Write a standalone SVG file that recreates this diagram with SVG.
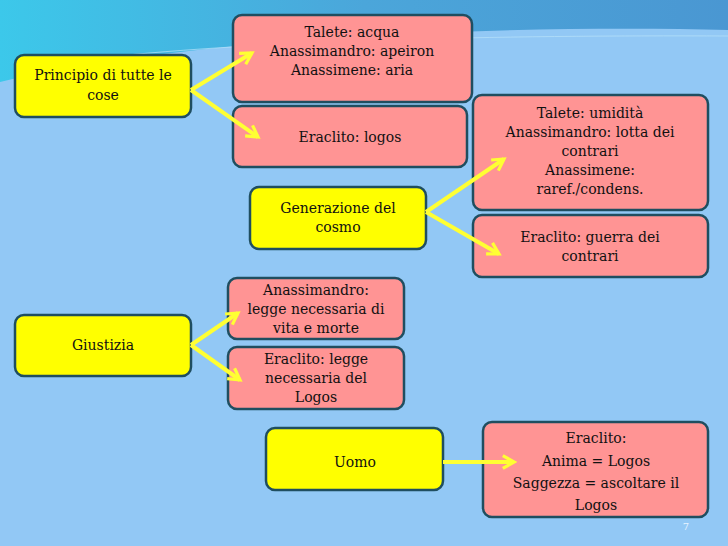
<svg xmlns="http://www.w3.org/2000/svg" width="728" height="546" viewBox="0 0 728 546" font-family="'DejaVu Serif', 'Liberation Serif', serif">
<defs>
<linearGradient id="top" x1="0" y1="0" x2="1" y2="0"><stop offset="0" stop-color="#3CC8EA"/><stop offset="0.5" stop-color="#4BA6DA"/><stop offset="1" stop-color="#4A97D2"/></linearGradient>
<marker id="ah" viewBox="0 0 10 10" refX="8" refY="5" markerWidth="4" markerHeight="4" orient="auto" markerUnits="strokeWidth"><path d="M1,1 L8,5 L1,9" fill="none" stroke="#FFFF33" stroke-width="2"/></marker>
<style>
.y{fill:#FFFF00;stroke:#1F4E60;stroke-width:2.5}
.p{fill:#FF9494;stroke:#1F4E60;stroke-width:2.5}
text{font-size:14px;fill:#111;text-anchor:middle}
.c line{stroke:#FFFF33;stroke-width:4;marker-end:url(#ah)}
</style>
</defs>
<rect width="728" height="546" fill="#92C8F5"/>
<path d="M0,0 H728 V30 C520,25 200,35 0,82 Z" fill="url(#top)"/>
<path d="M80,60 C250,40 500,35 728,36" fill="none" stroke="#B8E2FA" stroke-width="1" opacity="0.7"/>
<g id="principio"><rect class="y" x="15" y="55" width="176" height="62" rx="9"/><text x="103" y="80">Principio di tutte le</text><text x="103" y="100">cose</text></g>
<g id="talete-acqua"><rect class="p" x="233" y="15" width="239" height="87" rx="9"/><text x="352" y="37">Talete: acqua</text><text x="352" y="56">Anassimandro: apeiron</text><text x="352" y="75">Anassimene: aria</text></g>
<g id="eraclito-logos"><rect class="p" x="233" y="106" width="234" height="61" rx="9"/><text x="350" y="142">Eraclito: logos</text></g>
<g id="talete-umidita"><rect class="p" x="473" y="95" width="235" height="115" rx="9"/><text x="590" y="118">Talete: umidità</text><text x="590" y="137">Anassimandro: lotta dei</text><text x="590" y="156">contrari</text><text x="590" y="175">Anassimene:</text><text x="590" y="194">raref./condens.</text></g>
<g id="generazione"><rect class="y" x="250" y="187" width="176" height="62" rx="9"/><text x="338" y="213">Generazione del</text><text x="338" y="232">cosmo</text></g>
<g id="eraclito-guerra"><rect class="p" x="473" y="215" width="235" height="62" rx="9"/><text x="590" y="242">Eraclito: guerra dei</text><text x="590" y="261">contrari</text></g>
<g id="anassimandro-legge"><rect class="p" x="228" y="278" width="176" height="61" rx="9"/><text x="316" y="295">Anassimandro:</text><text x="316" y="314">legge necessaria di</text><text x="316" y="333">vita e morte</text></g>
<g id="giustizia"><rect class="y" x="15" y="315" width="176" height="61" rx="9"/><text x="103" y="350">Giustizia</text></g>
<g id="eraclito-legge"><rect class="p" x="228" y="347" width="176" height="62" rx="9"/><text x="316" y="364">Eraclito: legge</text><text x="316" y="383">necessaria del</text><text x="316" y="402">Logos</text></g>
<g id="uomo"><rect class="y" x="266" y="428" width="177" height="62" rx="9"/><text x="355" y="467">Uomo</text></g>
<g id="eraclito-anima"><rect class="p" x="483" y="422" width="225" height="95" rx="9"/><text x="596" y="443">Eraclito:</text><text x="596" y="466">Anima = Logos</text><text x="596" y="488">Saggezza = ascoltare il</text><text x="596" y="510">Logos</text></g>
<g class="c">
<line x1="191" y1="90" x2="252" y2="53"/>
<line x1="191" y1="90" x2="258" y2="137"/>
<line x1="426" y1="212" x2="504" y2="159"/>
<line x1="426" y1="212" x2="499" y2="254"/>
<line x1="191" y1="345" x2="238" y2="313"/>
<line x1="191" y1="345" x2="240" y2="380"/>
<line x1="443" y1="462" x2="514" y2="462"/>
</g>
<text x="686" y="530" style="font-size:10px;fill:#E8F4FF">7</text>
</svg>
